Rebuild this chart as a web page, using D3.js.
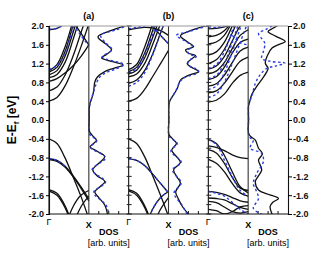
<!DOCTYPE html>
<html>
<head>
<meta charset="utf-8">
<script src="https://cdn.jsdelivr.net/npm/d3@7"></script>
<style>
  body { margin: 0; background: #fff; }
  svg text { font-family: "Liberation Sans", Arial, sans-serif; }
</style>
</head>
<body>
<svg id="chart"></svg>
<script>
// band structure + DOS, three cases (a) (b) (c)

/*  DATA  */

const panelLabels = ['(a)', '(b)', '(c)'];
const yTicks = [2.0, 1.6, 1.2, 0.8, 0.4, 0.0, -0.4, -0.8, -1.2, -1.6, -2.0];
const yMinor = [1.8, 1.4, 1.0, 0.6, 0.2, -0.2, -0.6, -1.0, -1.4, -1.8];
const kLabels = ['\u0393', 'X'];

// k points along Gamma -> X
const kPts = [0, 0.2, 0.4, 0.6, 0.8, 1.0];

// bands (eV) at kPts, black solid
const bandsA = [
  [0.40, 0.48, 0.72, 1.10, 1.55, 2.05],
  [0.62, 0.70, 0.95, 1.35, 1.85, 2.35],
  [0.82, 0.88, 1.00, 1.15, 1.35, 1.60],
  [0.90, 0.97, 1.22, 1.70, 2.25, 2.80],
  [0.96, 1.05, 1.35, 1.85, 2.40, 3.00],
  [1.02, 1.12, 1.45, 2.00, 2.55, 3.10],
  [1.05, 1.18, 1.55, 2.10, 2.65, 3.20],
  [1.92, 1.95, 2.05, 2.20, 2.40, 2.60],
  [2.80, 2.60, 2.35, 2.10, 1.85, 1.60],
  [-0.40, -0.50, -0.80, -1.20, -1.62, -2.10],
  [-0.82, -0.86, -0.98, -1.18, -1.42, -1.68],
  [-0.84, -0.88, -1.00, -1.20, -1.45, -1.72],
  [-1.48, -1.56, -1.82, -2.25, -2.80, -3.40],
  [-1.51, -1.60, -1.86, -2.30, -2.85, -3.40],
  [-3.50, -3.00, -2.30, -1.85, -1.60, -1.50],
  [-3.80, -3.40, -2.90, -2.25, -1.85, -1.62]
];
// blue dashed
const bandsAdash = [
  [1.93, 1.95, 2.04, null, null, null],
  [1.08, 1.15, 1.42, 1.95, 2.50, 3.00],
  [null, null, 2.30, 2.05, 1.80, 1.58],
  [-0.82, -0.86, -0.98, null, null, null]
];

const bandsB = [
  [0.40, 0.46, 0.65, 0.92, 1.20, 1.48],
  [0.78, 0.85, 1.05, 1.40, 1.85, 2.30],
  [0.92, 0.98, 1.20, 1.60, 2.05, 2.50],
  [0.98, 1.06, 1.32, 1.75, 2.20, 2.70],
  [1.03, 1.12, 1.42, 1.90, 2.40, 2.90],
  [1.07, 1.18, 1.55, 2.05, 2.60, 3.10],
  [1.92, 1.95, 1.97, 1.96, 1.90, 1.80],
  [2.60, 2.40, 2.20, 2.00, 1.80, 1.62],
  [-0.40, -0.50, -0.78, -1.18, -1.60, -2.05],
  [-0.82, -0.86, -0.97, -1.15, -1.35, -1.55],
  [-1.48, -1.56, -1.82, -2.25, -2.80, -3.40],
  [-1.51, -1.60, -1.86, -2.30, -2.85, -3.40],
  [-3.50, -3.00, -2.35, -1.90, -1.65, -1.52],
  [-3.80, -3.40, -2.90, -2.30, -1.90, -1.65]
];
const bandsBdash = [
  [1.94, 1.97, 1.99, null, null, null],
  [0.72, 0.80, 1.00, 1.38, 1.85, 2.30],
  [1.00, 1.10, 1.38, 1.82, 2.30, 2.80],
  [null, null, null, 2.00, 1.80, 1.62],
  [-0.82, -0.86, -0.97, -1.15, -1.35, -1.55],
  [null, null, -2.35, -1.90, -1.65, -1.52]
];

const bandsC = [
  [0.38, 0.42, 0.55, 0.78, 0.95, 1.02],
  [0.58, 0.62, 0.78, 1.02, 1.25, 1.34],
  [0.72, 0.77, 0.95, 1.22, 1.47, 1.55],
  [0.86, 0.92, 1.12, 1.42, 1.65, 1.72],
  [0.98, 1.04, 1.22, 1.52, 1.80, 1.92],
  [1.08, 1.15, 1.35, 1.68, 2.00, 2.15],
  [1.20, 1.28, 1.50, 1.85, 2.20, 2.35],
  [1.38, 1.45, 1.65, 2.00, 2.40, 2.60],
  [1.62, 1.66, 1.80, 2.10, 2.50, 2.70],
  [1.77, 1.80, 1.90, 2.10, 2.40, 2.60],
  [1.94, 1.95, 1.98, 2.05, 2.20, 2.30],
  [-0.42, -0.50, -0.75, -1.10, -1.42, -1.55],
  [-0.55, -0.58, -0.65, -0.74, -0.80, -0.82],
  [-0.63, -0.70, -0.92, -1.22, -1.45, -1.50],
  [-0.84, -0.92, -1.10, -1.35, -1.55, -1.62],
  [-1.52, -1.54, -1.58, -1.65, -1.72, -1.75],
  [-1.66, -1.67, -1.70, -1.78, -1.86, -1.90],
  [-1.73, -1.76, -1.85, -1.95, -1.98, -1.95],
  [-1.90, -1.93, -2.00, -1.95, -1.85, -1.82]
];
const bandsCdash = [
  [0.48, 0.55, 0.80, 1.20, 1.65, 2.10],
  [0.65, 0.72, 1.00, 1.45, 1.95, 2.40],
  [0.88, 0.95, 1.20, 1.65, 2.15, 2.60],
  [1.10, 1.18, 1.45, 1.90, 2.40, 2.80],
  [1.96, 1.97, 1.99, null, null, null],
  [null, null, null, 1.80, 1.64, 1.60],
  [-0.42, -0.52, -0.85, -1.20, -1.50, -1.62],
  [-1.52, -1.56, -1.62, -1.75, -1.90, -2.00]
];

// DOS as [energy, fraction of panel width]
const dosA = [[2.02,0.97],[1.9,0.55],[1.77,0.23],[1.62,0.42],[1.49,0.57],[1.40,0.45],[1.32,0.32],
  [1.24,0.6],[1.17,0.86],[1.10,0.62],[1.03,0.40],[0.92,0.22],[0.81,0.15],[0.68,0.13],[0.57,0.11],
  [0.45,0.07],[0.36,0.03],[0.28,0.015],[0,0.01],[-0.24,0.015],[-0.32,0.08],[-0.43,0.19],[-0.5,0.12],
  [-0.57,0.03],[-0.66,0.2],[-0.78,0.4],[-0.9,0.28],[-1.06,0.1],[-1.18,0.2],[-1.31,0.4],[-1.42,0.28],
  [-1.53,0.15],[-1.65,0.25],[-1.81,0.4],[-2.05,0.48]];
const dosAdash = [[2.02,1.0],[1.92,0.7],[1.8,0.3],[1.66,0.4],[1.5,0.58],[1.34,0.34],[1.18,0.88],
  [1.08,0.66],[1.02,0.46],[0.92,0.28],[0.8,0.2],[0.6,0.12],[0.38,0.04],[0.28,0.015],[0,0.01],
  [-0.3,0.02],[-0.44,0.2],[-0.58,0.04],[-0.8,0.42],[-1.06,0.08],[-1.32,0.42],[-1.54,0.12],
  [-1.82,0.44],[-2.05,0.5]];

const dosB = [[2.02,1.0],[1.9,0.55],[1.79,0.3],[1.66,0.48],[1.56,0.63],[1.49,0.43],[1.42,0.5],
  [1.37,0.68],[1.28,0.55],[1.2,0.47],[1.1,0.62],[1.03,0.76],[0.95,0.5],[0.85,0.3],[0.67,0.22],
  [0.49,0.09],[0.4,0.03],[0.3,0.01],[0,0.01],[-0.3,0.01],[-0.38,0.08],[-0.5,0.2],[-0.64,0.08],
  [-0.78,0.2],[-0.9,0.3],[-1.06,0.13],[-1.2,0.2],[-1.34,0.3],[-1.53,0.18],[-1.68,0.25],
  [-1.83,0.34],[-2.05,0.55]];
const dosBdash = [[2.0,0.98],[1.88,0.5],[1.8,0.2],[1.68,0.42],[1.56,0.6],[1.48,0.48],[1.4,0.52],
  [1.35,0.7],[1.26,0.5],[1.15,0.52],[1.06,0.75],[1.0,0.72],[0.9,0.4],[0.8,0.28],[0.65,0.2],
  [0.5,0.1],[0.38,0.02],[0,0.01],[-0.35,0.02],[-0.5,0.22],[-0.66,0.06],[-0.9,0.32],[-1.06,0.1],
  [-1.34,0.32],[-1.55,0.14],[-1.84,0.36],[-2.05,0.5]];

const dosC = [[2.02,0.76],[1.94,0.6],[1.88,0.5],[1.78,0.7],[1.67,0.93],[1.6,0.75],[1.53,0.6],
  [1.4,0.5],[1.21,0.43],[1.1,0.5],[1.03,0.47],[0.86,0.34],[0.72,0.22],[0.54,0.09],[0.36,0.03],
  [0.3,0.01],[0,0.01],[-0.28,0.01],[-0.35,0.06],[-0.43,0.18],[-0.6,0.26],[-0.72,0.36],[-0.85,0.26],
  [-1.06,0.34],[-1.2,0.25],[-1.31,0.18],[-1.49,0.26],[-1.58,0.5],[-1.67,0.76],[-1.75,0.62],
  [-1.84,0.55],[-2.06,0.63]];
const dosCdash = [[2.0,0.6],[1.93,0.45],[1.84,0.26],[1.72,0.35],[1.63,0.42],[1.45,0.38],[1.31,0.34],
  [1.25,0.55],[1.21,0.92],[1.15,0.7],[1.1,0.47],[0.96,0.3],[0.78,0.18],[0.5,0.09],[0.38,0.03],
  [0.3,0.01],[0,0.01],[-0.3,0.01],[-0.38,0.05],[-0.43,0.13],[-0.6,0.05],[-0.71,0.34],[-0.89,0.38],
  [-1.13,0.22],[-1.35,0.13],[-1.5,0.2],[-1.67,0.26],[-1.88,0.13],[-2.02,0.38]];

const bandSets = [bandsA, bandsB, bandsC];
const bandDashSets = [bandsAdash, bandsBdash, bandsCdash];
const dosSets = [dosA, dosB, dosC];
const dosDashSets = [dosAdash, dosBdash, dosCdash];
const dosTicks = [0.25, 0.5, 0.75];

/*  LAYOUT  */

const width = 332, height = 254;
const mTop = 26, mBottom = 214, mLeft = 49, mRight = 288;
const blue = '#2a3ee0';

const svg = d3.select('#chart')
    .attr('width', width)
    .attr('height', height);

// 6 panels side by side
const px = d3.scaleLinear().domain([0, 6]).range([mLeft, mRight]);
const y = d3.scaleLinear().domain([-2, 2]).range([mBottom, mTop]);

const defs = svg.append('defs');

for (let i = 0; i < 3; i++) {

    const kx = d3.scaleLinear().domain([0, 1]).range([px(2 * i), px(2 * i + 1)]);
    const dx = d3.scaleLinear().domain([0, 1]).range([px(2 * i + 1), px(2 * i + 2)]);

    defs.append('clipPath').attr('id', 'clip' + i)
      .append('rect')
        .attr('x', px(2 * i)).attr('y', mTop)
        .attr('width', px(2 * i + 2) - px(2 * i)).attr('height', mBottom - mTop);

    const g = svg.append('g').attr('clip-path', 'url(#clip' + i + ')');

    const bandLine = d3.line()
        .defined(d => d[1] != null)
        .x(d => kx(d[0]))
        .y(d => y(d[1]))
        .curve(d3.curveCatmullRom);

    g.selectAll('path.band')
        .data(bandSets[i])
        .enter().append('path')
        .attr('class', 'band')
        .attr('d', b => bandLine(b.map((e, j) => [kPts[j], e])))
        .attr('fill', 'none')
        .attr('stroke', '#111')
        .attr('stroke-width', 1.3);

    g.selectAll('path.banddash')
        .data(bandDashSets[i])
        .enter().append('path')
        .attr('class', 'banddash')
        .attr('d', b => bandLine(b.map((e, j) => [kPts[j], e])))
        .attr('fill', 'none')
        .attr('stroke', blue)
        .attr('stroke-width', 1.4)
        .attr('stroke-dasharray', '2.5,2.5');

    const dosLine = d3.line()
        .x(d => dx(d[1]))
        .y(d => y(d[0]))
        .curve(d3.curveCatmullRom);

    g.append('path')
        .attr('d', dosLine(dosSets[i]))
        .attr('fill', 'none')
        .attr('stroke', '#111')
        .attr('stroke-width', 1.3);

    g.append('path')
        .attr('d', dosLine(dosDashSets[i]))
        .attr('fill', 'none')
        .attr('stroke', blue)
        .attr('stroke-width', 1.4)
        .attr('stroke-dasharray', '2.5,2.5');

    // DOS bottom ticks
    svg.selectAll('line.dt' + i)
        .data(dosTicks)
        .enter().append('line')
        .attr('x1', d => dx(d)).attr('x2', d => dx(d))
        .attr('y1', mBottom).attr('y2', mBottom - 3)
        .attr('stroke', '#111');

    // vertical separators
    [2 * i, 2 * i + 1].forEach(p => {
        svg.append('line')
            .attr('x1', px(p)).attr('x2', px(p))
            .attr('y1', mTop).attr('y2', mBottom)
            .attr('stroke', p % 2 ? '#333' : '#111')
            .attr('stroke-width', 1.1);
    });

    // inner y ticks for (b), (c)
    if (i > 0) {
        svg.selectAll('line.yt' + i)
            .data(yTicks.concat(yMinor))
            .enter().append('line')
            .attr('x1', px(2 * i) - 2).attr('x2', px(2 * i) + 3)
            .attr('y1', d => y(d)).attr('y2', d => y(d))
            .attr('stroke', '#222');
    }

    // panel label
    svg.append('text')
        .attr('x', px(2 * i + 1)).attr('y', 19)
        .attr('text-anchor', 'middle')
        .attr('font-size', 9).attr('font-weight', 'bold')
        .text(panelLabels[i]);

    // k labels
    svg.append('text')
        .attr('x', kx(0)).attr('y', 225)
        .attr('text-anchor', 'middle')
        .attr('font-size', 9)
        .attr('font-family', '"DejaVu Serif", serif')
        .text(kLabels[0]);
    svg.append('text')
        .attr('x', kx(1)).attr('y', 228)
        .attr('text-anchor', 'middle')
        .attr('font-size', 9).attr('font-weight', 'bold')
        .text(kLabels[1]);

    // DOS labels
    svg.append('text')
        .attr('x', dx(0.5)).attr('y', 235)
        .attr('text-anchor', 'middle')
        .attr('font-size', 9).attr('font-weight', 'bold')
        .text('DOS');
    svg.append('text')
        .attr('x', dx(0.5)).attr('y', 246)
        .attr('text-anchor', 'middle')
        .attr('font-size', 9)
        .text('[arb. units]');
}

/* FRAME & AXES */

svg.append('line')
    .attr('x1', mLeft).attr('x2', mRight)
    .attr('y1', mTop).attr('y2', mTop)
    .attr('stroke', '#999').attr('stroke-width', 1.2);
svg.append('line')
    .attr('x1', mLeft).attr('x2', mRight)
    .attr('y1', mBottom).attr('y2', mBottom)
    .attr('stroke', '#111').attr('stroke-width', 1.2);

const fmt = d => d.toFixed(1);

const leftAxis = svg.append('g')
    .attr('transform', 'translate(' + mLeft + ',0)')
    .call(d3.axisLeft(y).tickValues(yTicks).tickFormat(fmt).tickSize(3).tickPadding(2));

const rightAxis = svg.append('g')
    .attr('transform', 'translate(' + mRight + ',0)')
    .call(d3.axisRight(y).tickValues(yTicks).tickFormat(fmt).tickSize(4).tickPadding(1));

[leftAxis, rightAxis].forEach(a => {
    a.select('.domain').attr('stroke', '#111').attr('stroke-width', 1.1);
    a.selectAll('text')
        .attr('font-size', 9)
        .attr('font-weight', 'bold')
        .attr('font-family', '"Liberation Sans", Arial, sans-serif')
        .attr('fill', '#111');
});

// y title
const yTitle = svg.append('text')
    .attr('transform', 'translate(16,120) rotate(-90)')
    .attr('text-anchor', 'middle')
    .attr('font-size', 12)
    .attr('font-weight', 'bold');
yTitle.append('tspan').text('E-E');
yTitle.append('tspan').attr('font-size', 8).attr('dy', 3).text('f');
yTitle.append('tspan').attr('dy', -3).text(' [eV]');
</script>
</body>
</html>
